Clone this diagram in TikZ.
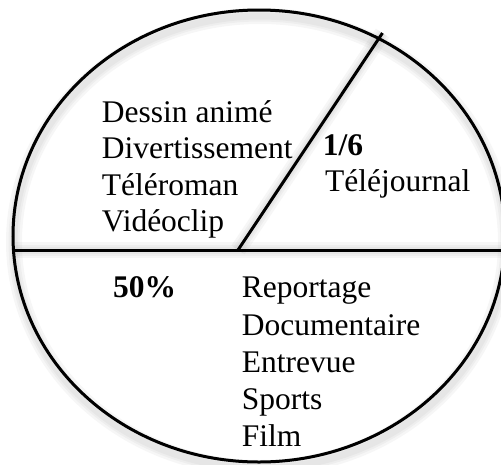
\documentclass[tikz,border=0pt]{standalone}
\usepackage{fontspec}
\setmainfont{Liberation Serif}
\begin{document}
\begin{tikzpicture}[x=1pt,y=-1pt,
  lbl/.style={anchor=base west, inner sep=0pt, font=\fontsize{31.5}{36}\selectfont},
  blbl/.style={anchor=base west, inner sep=0pt, font=\fontsize{31.5}{36}\selectfont\bfseries},
  edge/.style={line width=3pt, black},
  shade/.style={line width=#1, gray, opacity=0.07}]
\useasboundingbox (0,0) rectangle (501,464);
\coordinate (ctr) at (259,236);
\coordinate (L) at (13.5,250);
\coordinate (R) at (506,250);
\coordinate (hub) at (238,250);
\coordinate (tip) at (382.5,33);
\begin{scope}
\clip (0,0) rectangle (501,464);
% soft shadows
\foreach \w in {16,11,7}{
  \begin{scope}[shift={(1,6)}]
    \draw[shade=\w pt] (259,236) ellipse [x radius=246pt, y radius=226pt];
    \draw[shade=\w pt] (L) -- (R);
    \draw[shade=\w pt] (hub) -- (tip);
  \end{scope}
}
% pie outline and dividers
\draw[edge] (ctr) ellipse [x radius=246pt, y radius=226pt];
\draw[edge] (L) -- (R);
\draw[edge] (hub) -- (tip);
\end{scope}
% upper left sector
\node[lbl] (a1) at (101.7,122) {Dessin animé};
\node[lbl] (a2) at (101.7,158.5) {Divertissement};
\node[lbl] (a3) at (101.7,195) {Téléroman};
\node[lbl] (a4) at (101.7,231) {Vidéoclip};
% upper right sector
\node[blbl] (f1) at (322.7,155) {1/6};
\node[lbl] (f2) at (325,191.5) {Téléjournal};
% lower half
\node[blbl] (h1) at (113,297.5) {50\%};
\node[lbl] (b1) at (241.7,297.5) {Reportage};
\node[lbl] (b2) at (241.7,335) {Documentaire};
\node[lbl] (b3) at (241.7,372) {Entrevue};
\node[lbl] (b4) at (241.7,409) {Sports};
\node[lbl] (b5) at (241.7,446) {Film};
\end{tikzpicture}
\end{document}
